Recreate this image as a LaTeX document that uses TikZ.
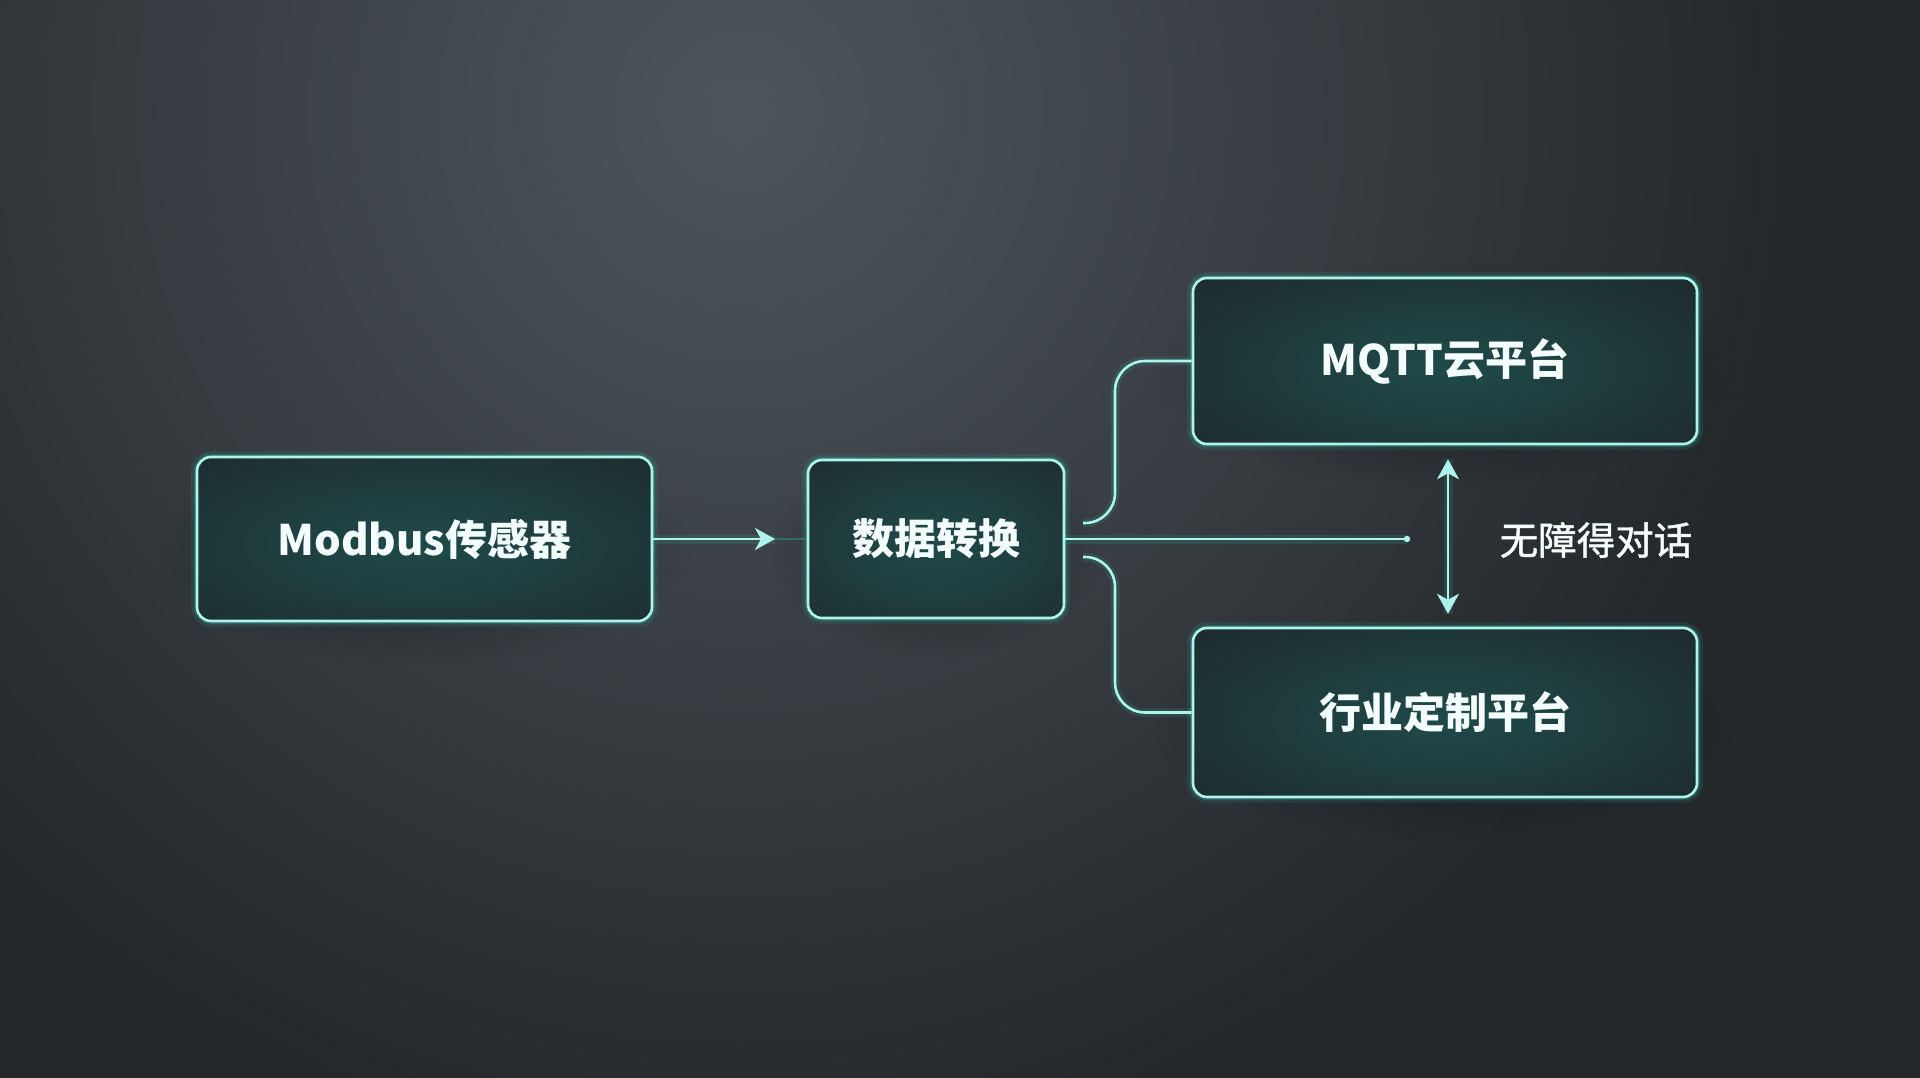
\documentclass[tikz,border=0pt]{standalone}
\usepackage{fontspec}
\setmainfont{Noto Sans CJK SC}
\newfontfamily\lblfont{Noto Sans CJK SC}[FakeBold=1.2]
\usetikzlibrary{arrows.meta,fadings,calc}
\definecolor{bgin}{HTML}{4D565D}
\definecolor{bgout}{HTML}{25282B}
\definecolor{boxfill}{HTML}{1E2628}
\definecolor{boxglow}{HTML}{1F4A4A}
\definecolor{edge}{HTML}{AEF4EC}
\definecolor{glow}{HTML}{2FB8AA}
\definecolor{txt}{HTML}{F4FFFD}
\tikzfading[name=softfade, inner color=transparent!0, outer color=transparent!100]
\tikzset{
  box/.style={rounded corners=14, draw=edge, line width=2.6, fill=boxfill,
    text=txt, font=\fontsize{42}{50}\selectfont\bfseries,
    preaction={draw=glow, line width=12, draw opacity=0.12},
    preaction={draw=glow, line width=6, draw opacity=0.25},
    path picture={\shade[inner color=boxglow, outer color=boxfill]
      ([yshift=-6pt]path picture bounding box.center) ellipse [x radius=#1, y radius=150];}},
  box/.default=380,
  conn/.style={draw=edge, line width=2.6,
    preaction={draw=glow, -, line width=9, draw opacity=0.15}},
  faint/.style={draw=glow, line width=1.2, draw opacity=0.35},
  tipa/.tip={Stealth[length=20,width=22,inset=6]},
  lbl/.style={text=txt, font=\fontsize{38.5}{45}\lblfont}
}
\begin{document}
\begin{tikzpicture}[x=1pt,y=-1pt]
\useasboundingbox (0,0) rectangle (1920,1078);
\begin{scope}
  \clip (0,0) rectangle (1920,1078);
  \fill[bgout] (0,0) rectangle (1920,1078);
  \shade[inner color=bgin, outer color=bgout] (740,110) circle (1050);
\end{scope}
% shadows
\foreach \cx/\cy/\w/\h in {424.5/553/455/164, 936/551/256/158, 1445/375/504/166, 1445/726/504/169}{
  \pgfmathsetmacro{\rx}{\w/2+40}
  \pgfmathsetmacro{\ry}{\h/2+30}
  \fill[black, fill opacity=0.4, path fading=softfade] (\cx,\cy) ellipse [x radius=\rx, y radius=\ry];
}
% boxes
\node[box=420, minimum width=455, minimum height=164] (mod) at (424.5,539) {Modbus传感器};
\node[box=260, minimum width=256, minimum height=158] (conv) at (936,539) {数据转换};
\node[box=400, minimum width=504, minimum height=166] (mqtt) at (1445,361) {MQTT云平台};
\node[box=400, minimum width=504, minimum height=169] (ind) at (1445,712.5) {行业定制平台};
% connectors
\coordinate (arrtip) at (775,539);
\draw[conn, -{tipa}] (mod.east) -- (arrtip);
\draw[faint] (arrtip) -- (conv.west);
\coordinate (ub) at (1083,523);
\coordinate (lb) at (1083,557);
\draw[conn, rounded corners=30] (ub) -- ++(32,0) |- (mqtt.west);
\draw[conn, rounded corners=30] (lb) -- ++(32,0) |- (ind.west);
\coordinate (cend) at (1407,539);
\draw[conn] (conv.east) -- (cend);
\fill[edge] (cend) circle (3.2);
\coordinate (da1) at ($(mqtt.south)+(3,14)$);
\coordinate (da2) at ($(ind.north)+(3,-13)$);
\draw[conn, {tipa}-{tipa}] (da1) -- (da2);
\node[lbl] (talk) at (1596,540) {无障得对话};
\end{tikzpicture}
\end{document}
